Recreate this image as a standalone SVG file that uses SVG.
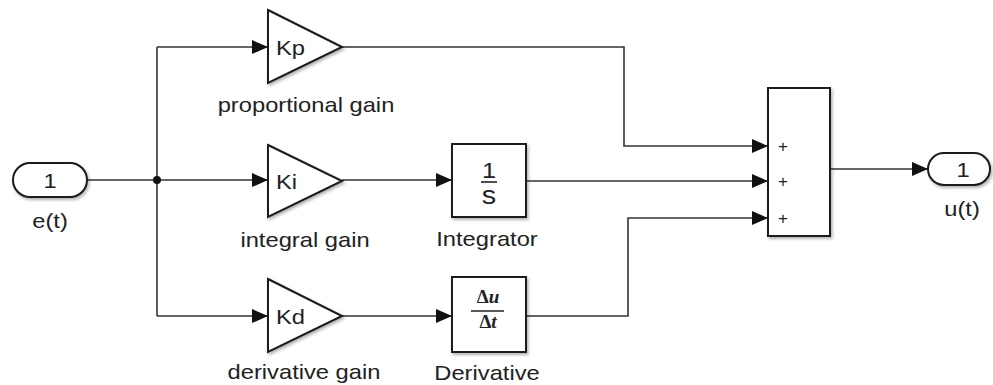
<svg xmlns="http://www.w3.org/2000/svg" width="993" height="385" viewBox="0 0 993 385">
<style>
.blk{fill:#fff;stroke:#1a1a1a;stroke-width:2;filter:url(#sh)}
.ln{fill:none;stroke:#333;stroke-width:1.6}
.t{font-family:"Liberation Sans",Arial,sans-serif;font-size:21px;fill:#222}
.m{text-anchor:middle}
.pl{font-family:"Liberation Sans",Arial,sans-serif;font-size:17px;fill:#222;text-anchor:middle}
.fr{font-family:"Liberation Serif","Times New Roman",serif;font-size:19px;font-weight:bold;fill:#222;text-anchor:middle}
</style>
<defs>
<filter id="sh" x="-20%" y="-20%" width="140%" height="140%">
<feDropShadow dx="1.5" dy="2" stdDeviation="1.5" flood-color="#000" flood-opacity="0.3"/>
</filter>
<marker id="ar" viewBox="0 0 16 14" refX="16" refY="7" markerWidth="16" markerHeight="14" markerUnits="userSpaceOnUse" orient="auto">
<path d="M0,0 L16,7 L0,14 Z" fill="#111"/>
</marker>
</defs>
<rect width="993" height="385" fill="#fff"/>

<g id="connectors">
<path class="ln" d="M87,180 H157"/>
<path class="ln" d="M157,180 H268" marker-end="url(#ar)"/>
<path class="ln" d="M157,47 V316"/>
<path class="ln" d="M157,47 H268" marker-end="url(#ar)"/>
<path class="ln" d="M157,316 H268" marker-end="url(#ar)"/>
<circle cx="157" cy="180" r="4" fill="#111"/>
<path class="ln" d="M342,180 H452" marker-end="url(#ar)"/>
<path class="ln" d="M342,316 H452" marker-end="url(#ar)"/>
<path class="ln" d="M342,47 H624 V146 H768" marker-end="url(#ar)"/>
<path class="ln" d="M526,181 H768" marker-end="url(#ar)"/>
<path class="ln" d="M526,316 H628 V218 H768" marker-end="url(#ar)"/>
<path class="ln" d="M830,169 H928" marker-end="url(#ar)"/>
</g>

<g id="inport">
<rect class="blk" x="13" y="163" width="74" height="34" rx="17"/>
<text class="t m" transform="translate(50,187.5) scale(1.13,1)">1</text>
<text class="t m" transform="translate(50,228) scale(1.13,1)">e(t)</text>
</g>

<g id="gain-kp">
<polygon class="blk" points="268,10 342,47 268,83"/>
<text class="t" transform="translate(276,55) scale(1.13,1)">Kp</text>
<text class="t m" transform="translate(306,112) scale(1.13,1)">proportional gain</text>
</g>

<g id="gain-ki">
<polygon class="blk" points="268,145 342,181 268,217"/>
<text class="t" transform="translate(276,189) scale(1.13,1)">Ki</text>
<text class="t m" transform="translate(305,247) scale(1.13,1)">integral gain</text>
</g>

<g id="gain-kd">
<polygon class="blk" points="268,279 342,316 268,352"/>
<text class="t" transform="translate(276,324) scale(1.13,1)">Kd</text>
<text class="t m" transform="translate(304,379) scale(1.13,1)">derivative gain</text>
</g>

<g id="integrator">
<rect class="blk" x="452" y="144" width="74" height="73"/>
<text class="t m" style="font-size:22px" transform="translate(489,178) scale(1.15,1)">1</text>
<path d="M481,182 H497" stroke="#222" stroke-width="1.6"/>
<text class="t m" style="font-size:25px" transform="translate(489,204) scale(1.15,1)">s</text>
<text class="t m" transform="translate(487,246) scale(1.13,1)">Integrator</text>
</g>

<g id="derivative">
<rect class="blk" x="452" y="277" width="74" height="75"/>
<text class="fr" x="488" y="303">Δ<tspan font-style="italic">u</tspan></text>
<path d="M471,311 H504" stroke="#222" stroke-width="1.6"/>
<text class="fr" x="488" y="328">Δ<tspan font-style="italic">t</tspan></text>
<text class="t m" transform="translate(487,380) scale(1.13,1)">Derivative</text>
</g>

<g id="sum">
<rect class="blk" x="768" y="88" width="62" height="148"/>
<text class="pl" x="783" y="151.5">+</text>
<text class="pl" x="783" y="186.5">+</text>
<text class="pl" x="783" y="223.5">+</text>
</g>

<g id="outport">
<rect class="blk" x="928" y="153" width="62" height="32" rx="16"/>
<text class="t m" transform="translate(963,176.5) scale(1.13,1)">1</text>
<text class="t m" transform="translate(962,216) scale(1.13,1)">u(t)</text>
</g>
</svg>
